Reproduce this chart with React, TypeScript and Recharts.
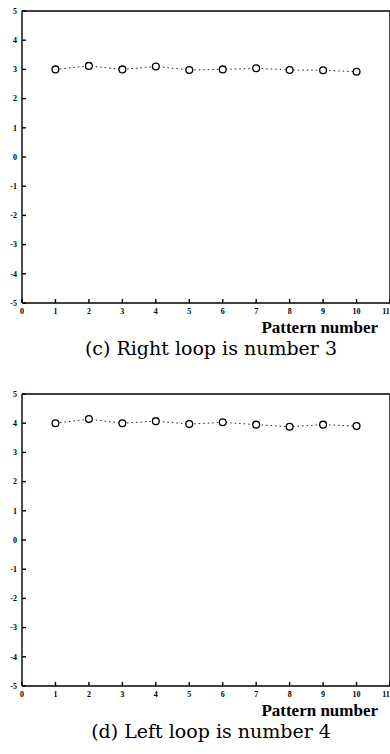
import { ScatterChart, Scatter, XAxis, YAxis } from 'recharts'

const patternNumbers = [1, 2, 3, 4, 5, 6, 7, 8, 9, 10]
const rightLoopOutput = [3.0, 3.12, 3.0, 3.1, 2.98, 3.0, 3.04, 2.98, 2.97, 2.92]
const leftLoopOutput = [4.0, 4.14, 4.0, 4.07, 3.97, 4.03, 3.95, 3.88, 3.95, 3.9]
const xTicks = [0, 1, 2, 3, 4, 5, 6, 7, 8, 9, 10, 11]
const yTicks = [-5, -4, -3, -2, -1, 0, 1, 2, 3, 4, 5]

const tickFont = {
  fontFamily: '"Liberation Serif", serif',
  fontWeight: 700,
  fontSize: 8,
  fill: '#000',
}

const axisStroke = { stroke: '#000', strokeWidth: 1.4 }
const LABEL_GAP = 5

// bottom tick: inward tick mark plus label below the axis
const XTick = (props: any) => {
  const { x, y, payload } = props
  const last = payload.value === xTicks[xTicks.length - 1]
  return (
    <g>
      <line x1={x} x2={x} y1={y - LABEL_GAP} y2={y - LABEL_GAP - 4} stroke="#000" strokeWidth={1.4} />
      <text x={last ? x - 4 : x} y={y} dy="0.71em" textAnchor="middle" {...tickFont}>
        {payload.value}
      </text>
    </g>
  )
}

// left tick: inward tick mark plus label left of the axis
const YTick = (props: any) => {
  const { x, y, payload } = props
  return (
    <g>
      <line x1={x + LABEL_GAP} x2={x + LABEL_GAP + 4} y1={y} y2={y} stroke="#000" strokeWidth={1.4} />
      <text x={x} y={y} dy="0.35em" textAnchor="end" {...tickFont}>
        {payload.value}
      </text>
    </g>
  )
}

const Marker = (props: any) => {
  const { cx, cy } = props
  return <circle cx={cx} cy={cy} r={3.4} fill="#fff" stroke="#000" strokeWidth={1.3} />
}

function PatternPanel({ values, caption, top }: { values: number[]; caption: string; top: number }) {
  const points = patternNumbers.map((p, i) => ({ x: p, y: values[i] }))
  return (
    <div style={{ position: 'absolute', left: 0, top, width: 390, height: 371 }}>
      <ScatterChart width={390} height={371} margin={{ top: 11, right: 0, left: 0, bottom: 58 }}>
        <XAxis
          xAxisId="bottom"
          type="number"
          dataKey="x"
          domain={[0, 11]}
          ticks={xTicks}
          interval={0}
          height={10}
          tickSize={0}
          tickMargin={LABEL_GAP}
          tick={<XTick />}
          axisLine={axisStroke}
          tickLine={false}
        />
        <XAxis
          xAxisId="top"
          orientation="top"
          type="number"
          dataKey="x"
          domain={[0, 11]}
          ticks={xTicks}
          interval={0}
          height={1}
          mirror
          tickSize={4}
          tick={false}
          axisLine={axisStroke}
          tickLine={axisStroke}
        />
        <YAxis
          yAxisId="left"
          type="number"
          dataKey="y"
          domain={[-5, 5]}
          ticks={yTicks}
          interval={0}
          width={22}
          tickSize={0}
          tickMargin={LABEL_GAP}
          tick={<YTick />}
          axisLine={axisStroke}
          tickLine={false}
        />
        <YAxis
          yAxisId="right"
          orientation="right"
          type="number"
          dataKey="y"
          domain={[-5, 5]}
          ticks={yTicks}
          interval={0}
          width={1}
          mirror
          tickSize={4}
          tick={false}
          axisLine={axisStroke}
          tickLine={axisStroke}
        />
        <Scatter
          xAxisId="bottom"
          yAxisId="left"
          data={points}
          shape={<Marker />}
          line={{ stroke: '#222', strokeWidth: 1, strokeDasharray: '1.5 3' }}
          isAnimationActive={false}
        />
        <Scatter
          xAxisId="top"
          yAxisId="right"
          data={points}
          shape={() => <g />}
          isAnimationActive={false}
        />
      </ScatterChart>
      <div
        style={{
          position: 'absolute',
          right: 12,
          top: 318,
          fontFamily: '"Liberation Serif", serif',
          fontWeight: 700,
          fontSize: 17,
          lineHeight: '20px',
        }}
      >
        Pattern number
      </div>
      <div
        style={{
          position: 'absolute',
          left: 0,
          width: 422,
          top: 336,
          textAlign: 'center',
          fontFamily: '"DejaVu Serif", serif',
          fontSize: 19,
          lineHeight: '24px',
        }}
      >
        {caption}
      </div>
    </div>
  )
}

export default function App() {
  return (
    <div style={{ position: 'absolute', left: 0, top: 0, width: 390, height: 754, background: '#fff' }}>
      <PatternPanel values={rightLoopOutput} caption="(c) Right loop is number 3" top={0} />
      <PatternPanel values={leftLoopOutput} caption="(d) Left loop is number 4" top={383} />
    </div>
  )
}
